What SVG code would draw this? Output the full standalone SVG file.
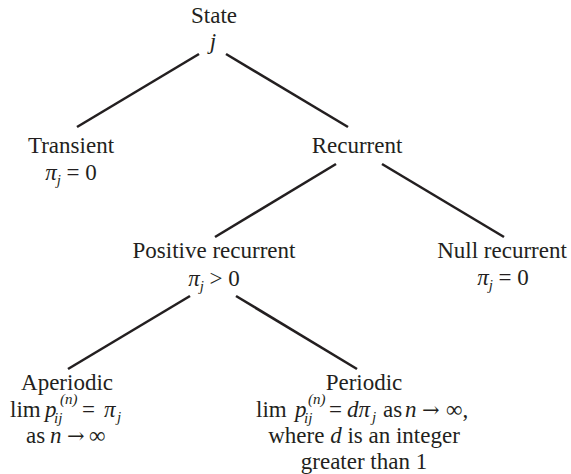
<svg xmlns="http://www.w3.org/2000/svg" width="571" height="474" viewBox="0 0 571 474">
<style>
text { font-family: "Liberation Serif", "Times New Roman", serif; font-size: 23px; fill: #231f20; }
.c { text-anchor: middle; }
.i { font-style: italic; }
.s { font-size: 15px; font-style: italic; }
.ar { font-family: "DejaVu Serif", serif; font-size: 21px; }
.edge { stroke: #231f20; stroke-width: 2.6; fill: none; }
</style>
<g id="connectors">
<line class="edge" x1="199" y1="54" x2="77" y2="127"/>
<line class="edge" x1="226" y1="54" x2="348" y2="127"/>
<line class="edge" x1="336" y1="164" x2="215" y2="237"/>
<line class="edge" x1="382" y1="164" x2="504" y2="237"/>
<line class="edge" x1="190" y1="296" x2="68" y2="369"/>
<line class="edge" x1="236" y1="296" x2="357" y2="369"/>
</g>
<g id="state">
<text class="c" x="214" y="23">State</text>
<text class="c i" x="213" y="49">j</text>
</g>
<g id="transient">
<text class="c" x="71" y="153">Transient</text>
<text class="c" x="71" y="180"><tspan class="i">π</tspan><tspan class="s" dy="5">j</tspan><tspan dy="-5"> = 0</tspan></text>
</g>
<g id="recurrent">
<text class="c" x="357" y="153">Recurrent</text>
</g>
<g id="positive">
<text class="c" x="214" y="258">Positive recurrent</text>
<text class="c" x="214" y="286"><tspan class="i">π</tspan><tspan class="s" dy="5">j</tspan><tspan dy="-5"> &gt; 0</tspan></text>
</g>
<g id="null">
<text class="c" x="502" y="258">Null recurrent</text>
<text class="c" x="503" y="285"><tspan class="i">π</tspan><tspan class="s" dy="5">j</tspan><tspan dy="-5"> = 0</tspan></text>
</g>
<g id="aperiodic">
<text class="c" x="67" y="390">Aperiodic</text>
<text x="10" y="417">lim</text>
<text class="i" x="45" y="417">p</text>
<text class="s" x="54" y="423">ij</text>
<text class="s" x="60" y="404">(n)</text>
<text x="82" y="417">=</text>
<text class="i" x="104" y="417">π</text>
<text class="s" x="117" y="422">j</text>
<text x="26" y="443">as</text>
<text class="i" x="50" y="443">n</text>
<text class="ar" x="67" y="443">→</text>
<text x="89" y="443">∞</text>
</g>
<g id="periodic">
<text class="c" x="364" y="390">Periodic</text>
<text x="256" y="417">lim</text>
<text class="i" x="295" y="417">p</text>
<text class="s" x="304" y="423">ij</text>
<text class="s" x="308" y="404">(n)</text>
<text x="329" y="417">=</text>
<text class="i" x="347" y="417">dπ</text>
<text class="s" x="372" y="422">j</text>
<text x="383" y="417">as</text>
<text class="i" x="405" y="417">n</text>
<text class="ar" x="422" y="417">→</text>
<text x="446" y="417">∞,</text>
<text class="c" x="364" y="443">where <tspan class="i">d</tspan> is an integer</text>
<text class="c" x="364" y="469">greater than 1</text>
</g>
</svg>
